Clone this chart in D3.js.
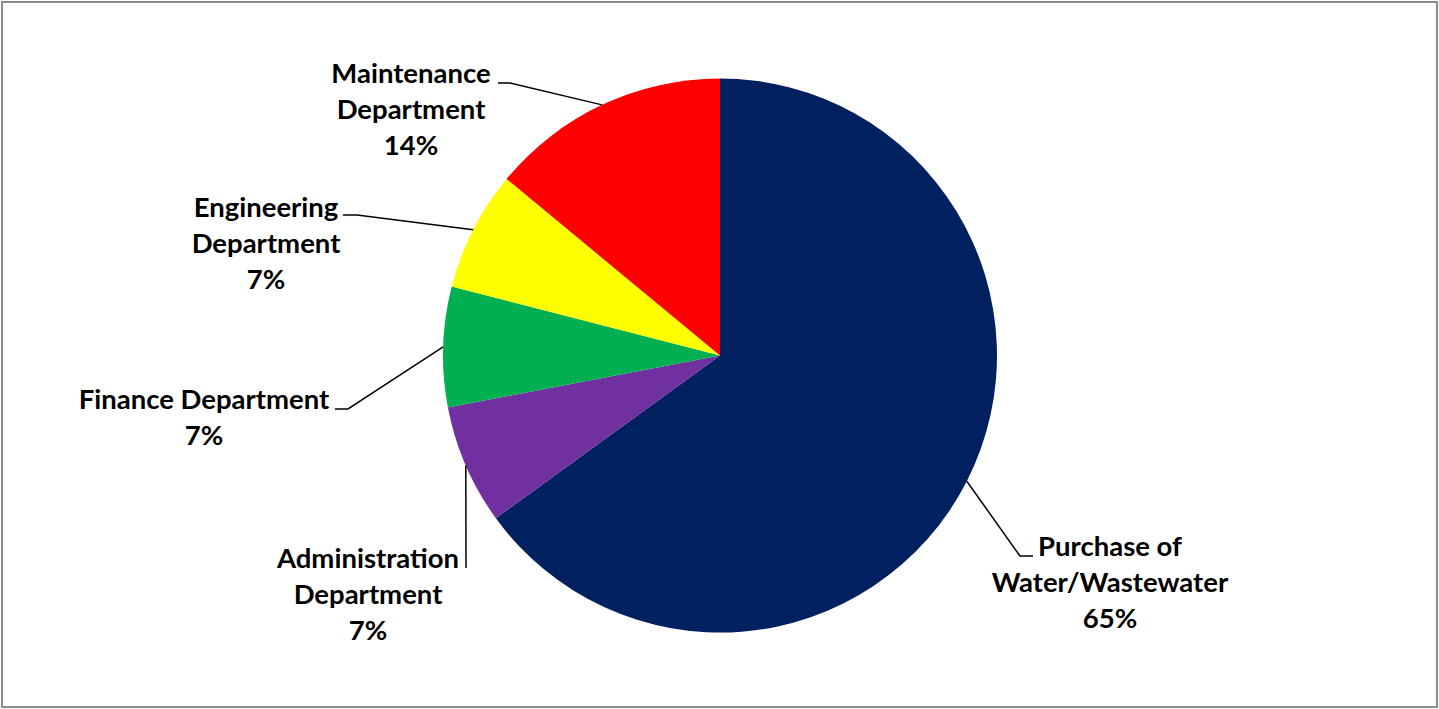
<!DOCTYPE html>
<html>
<head>
<meta charset="utf-8">
<script src="https://cdn.jsdelivr.net/npm/d3@7/dist/d3.min.js"></script>
<style>
  html, body { margin: 0; padding: 0; background: #fff; }
  svg { display: block; }
  .lbl { font-family: Lato, "Open Sans", sans-serif; font-weight: 700; font-size: 27.5px; fill: #000; }
</style>
</head>
<body>
<svg id="chart" width="1439" height="709"></svg>
<script>
// Budget share by department (percent)
const categories = [
  "Purchase of Water/Wastewater",
  "Administration Department",
  "Finance Department",
  "Engineering Department",
  "Maintenance Department"
];
const values = [65, 7, 7, 7, 14];
const colors = ["#002060", "#7030A0", "#00B050", "#FFFF00", "#FF0000"];

// Label text lines for each slice
const labelLines = [
  ["Purchase of", "Water/Wastewater"],
  ["Administration", "Department"],
  ["Finance Department"],
  ["Engineering", "Department"],
  ["Maintenance", "Department"]
];

// Label placement: text centre x, first baseline y, leader path elbow points
const labelLayout = [
  { x: 1110, y: 556, elbow: [[1033, 556], [1020, 556]] },
  { x: 368,  y: 568, elbow: [[466, 568]] },
  { x: 204,  y: 409, elbow: [[335, 409], [348, 409]] },
  { x: 266,  y: 217, elbow: [[343, 215], [357, 215]] },
  { x: 411,  y: 83,  elbow: [[498, 83], [510, 83]] }
];

const W = 1439, H = 709;
const cx = 720, cy = 355.5, R = 277;
const lineStep = 36;

const svg = d3.select("#chart");

// chart area border
svg.append("rect")
  .attr("x", 2).attr("y", 2)
  .attr("width", W - 4).attr("height", H - 4)
  .attr("fill", "#fff")
  .attr("stroke", "#8c8c8c")
  .attr("stroke-width", 2);

const data = categories.map((c, i) => ({ name: c, value: values[i], color: colors[i], i }));

const pie = d3.pie().value(d => d.value).sort(null);
const arcs = pie(data);
const arc = d3.arc().innerRadius(0).outerRadius(R);
const edge = d3.arc().innerRadius(R).outerRadius(R);

const g = svg.append("g").attr("transform", `translate(${cx},${cy})`);

g.selectAll("path.slice")
  .data(arcs)
  .join("path")
  .attr("class", "slice")
  .attr("d", arc)
  .attr("fill", d => d.data.color);

// leader lines from slice edge midpoint to label
const line = d3.line();
svg.selectAll("path.leader")
  .data(arcs)
  .join("path")
  .attr("class", "leader")
  .attr("fill", "none")
  .attr("stroke", "#000")
  .attr("stroke-width", 1.5)
  .attr("d", d => {
    const c = edge.centroid(d);
    const pts = labelLayout[d.data.i].elbow.concat([[cx + c[0], cy + c[1]]]);
    return line(pts);
  });

// labels: name lines plus percentage
const fmt = d3.format(".0%");
const labels = svg.selectAll("text.lbl")
  .data(arcs)
  .join("text")
  .attr("class", "lbl")
  .attr("text-anchor", "middle");

labels.each(function(d) {
  const L = labelLayout[d.data.i];
  const lines = labelLines[d.data.i].concat([fmt(d.data.value / 100)]);
  d3.select(this).selectAll("tspan")
    .data(lines)
    .join("tspan")
    .attr("x", L.x)
    .attr("y", (t, k) => L.y + k * lineStep)
    .text(t => t);
});
</script>
</body>
</html>
